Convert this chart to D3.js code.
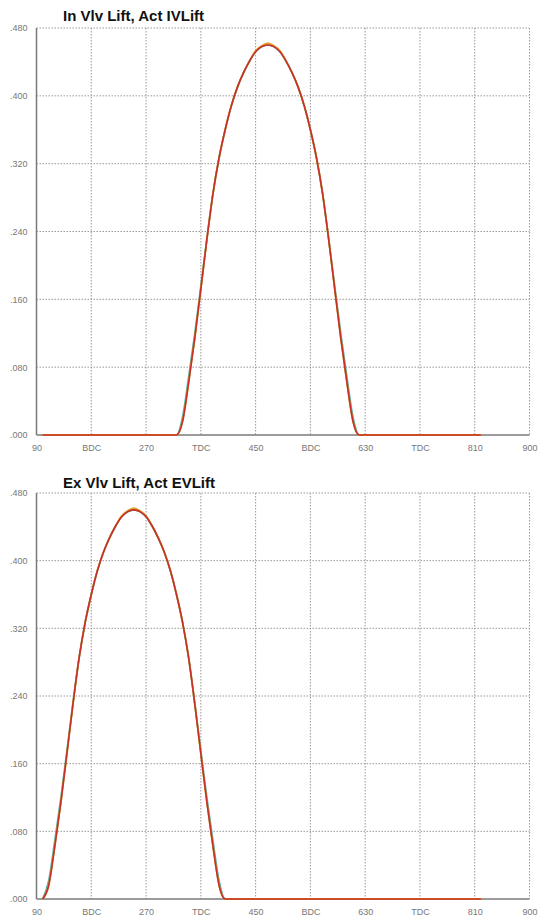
<!DOCTYPE html>
<html>
<head>
<meta charset="utf-8">
<script src="https://cdn.jsdelivr.net/npm/d3@7/dist/d3.min.js"></script>
<style>
  html, body { margin: 0; padding: 0; background: #fff; }
  svg { display: block; }
  .tick text { font-family: "Liberation Sans", Arial, sans-serif; font-size: 9px; fill: #777; }
  .title { font-family: "Liberation Sans", Arial, sans-serif; font-size: 15px; font-weight: bold; fill: #111; }
</style>
</head>
<body>
<div id="chart"></div>
<script>
/* =====================================================
 * DATOS (grados de cigüeñal / alzada)
 * ===================================================== */
const xTicks = [90, 180, 270, 360, 450, 540, 630, 720, 810, 900];
const xTickLabels = ["90", "BDC", "270", "TDC", "450", "BDC", "630", "TDC", "810", "900"];
const yTicks = [0, 0.08, 0.16, 0.24, 0.32, 0.40, 0.48];
const yTickLabels = [".000", ".080", ".160", ".240", ".320", ".400", ".480"];

// Admisión
const intakeDeg = [100, 320, 330, 340, 350, 360, 370, 380, 390, 400, 410, 420, 430, 440, 450, 460,
  470, 480, 490, 500, 510, 520, 530, 540, 550, 560, 570, 580, 590, 600, 610, 620, 820];
const intakeActLift = [0, 0, .016, .062, .114, .172, .231, .285, .327, .360, .388, .410, .427, .441, .452, .458,
  .460, .458, .452, .441, .427, .410, .388, .360, .327, .285, .231, .172, .114, .062, .016, 0, 0];
const intakeVlvLift = [0, 0, .021, .068, .119, .175, .232, .285, .327, .360, .388, .410, .427, .441, .452, .458,
  .460, .458, .452, .441, .427, .410, .388, .360, .327, .285, .232, .175, .119, .068, .021, 0, 0];
const intakeCamLift = [0, 0, .016, .062, .114, .172, .231, .285, .327, .360, .388, .410, .427, .441, .453, .459,
  .462, .459, .453, .441, .427, .410, .388, .360, .327, .285, .231, .172, .114, .062, .016, 0, 0];

// Escape
const exhaustDeg = [100, 110, 120, 130, 140, 150, 160, 170, 180, 190, 200, 210, 220, 230, 240,
  250, 260, 270, 280, 290, 300, 310, 320, 330, 340, 350, 360, 370, 380, 390, 400, 820];
const exhaustActLift = [0, .016, .062, .114, .172, .231, .285, .327, .360, .388, .410, .427, .441, .452, .458,
  .460, .458, .452, .441, .427, .410, .388, .360, .327, .285, .231, .172, .114, .062, .016, 0, 0];
const exhaustVlvLift = [0, .021, .068, .119, .175, .232, .285, .327, .360, .388, .410, .427, .441, .452, .458,
  .460, .458, .452, .441, .427, .410, .388, .360, .327, .285, .232, .175, .119, .068, .021, 0, 0];
const exhaustCamLift = [0, .016, .062, .114, .172, .231, .285, .327, .360, .388, .410, .427, .441, .453, .459,
  .462, .459, .453, .441, .427, .410, .388, .360, .327, .285, .231, .172, .114, .062, .016, 0, 0];

/* =====================================================
 * LAYOUT
 * ===================================================== */
const width = 538, height = 922;
const plotX0 = 36.5, plotX1 = 529.5;

const panels = [
  { title: "In Vlv Lift, Act IVLift", titleY: 21, top: 28, bottom: 435, labelY: 453,
    deg: intakeDeg, series: [intakeVlvLift, intakeCamLift, intakeActLift] },
  { title: "Ex Vlv Lift, Act EVLift", titleY: 488, top: 493, bottom: 899, labelY: 917,
    deg: exhaustDeg, series: [exhaustVlvLift, exhaustCamLift, exhaustActLift] }
];

const seriesColors = ["#4fb3a8", "#e3a02a", "#c62f2a"];

const svg = d3.select("#chart")
  .append("svg")
  .attr("width", width)
  .attr("height", height);

const x = d3.scaleLinear().domain([90, 900]).range([plotX0, plotX1]);

panels.forEach(p => {
  const y = d3.scaleLinear().domain([0, 0.48]).range([p.bottom, p.top]);
  const g = svg.append("g");

  // Título
  g.append("text")
    .attr("class", "title")
    .attr("x", 63)
    .attr("y", p.titleY)
    .text(p.title);

  // Rejilla punteada
  g.append("g").selectAll("line.gx")
    .data(xTicks.slice(1))
    .enter().append("line")
    .attr("x1", d => x(d)).attr("x2", d => x(d))
    .attr("y1", p.top).attr("y2", p.bottom)
    .attr("stroke", "#999")
    .attr("stroke-width", 1)
    .attr("stroke-dasharray", "1.5,1.5");

  g.append("g").selectAll("line.gy")
    .data(yTicks.slice(1))
    .enter().append("line")
    .attr("x1", plotX0).attr("x2", plotX1)
    .attr("y1", d => y(d)).attr("y2", d => y(d))
    .attr("stroke", "#999")
    .attr("stroke-width", 1)
    .attr("stroke-dasharray", "1.5,1.5");

  // Ejes (solo etiquetas)
  const yAxis = d3.axisLeft(y)
    .tickValues(yTicks)
    .tickFormat((d, i) => yTickLabels[i])
    .tickSize(0)
    .tickPadding(9);
  g.append("g")
    .attr("transform", `translate(${plotX0},0)`)
    .call(yAxis)
    .call(s => s.select(".domain").remove());

  const xAxis = d3.axisBottom(x)
    .tickValues(xTicks)
    .tickFormat((d, i) => xTickLabels[i])
    .tickSize(0)
    .tickPadding(0);
  g.append("g")
    .attr("transform", `translate(0,${p.labelY - 8})`)
    .call(xAxis)
    .call(s => s.select(".domain").remove());

  // Líneas de eje sólidas
  g.append("line")
    .attr("x1", plotX0).attr("x2", plotX0)
    .attr("y1", p.top).attr("y2", p.bottom)
    .attr("stroke", "#7a7a7a").attr("stroke-width", 1.5);
  g.append("line")
    .attr("x1", plotX0).attr("x2", plotX1)
    .attr("y1", p.bottom).attr("y2", p.bottom)
    .attr("stroke", "#7a7a7a").attr("stroke-width", 1.5);

  // Curvas de alzada
  const line = d3.line()
    .x((d, i) => x(p.deg[i]))
    .y(d => y(d))
    .curve(d3.curveMonotoneX);

  p.series.forEach((vals, k) => {
    g.append("path")
      .datum(vals)
      .attr("fill", "none")
      .attr("stroke", seriesColors[k])
      .attr("stroke-width", k === 2 ? 1.6 : 1.8)
      .attr("d", line);
  });
});
</script>
</body>
</html>
